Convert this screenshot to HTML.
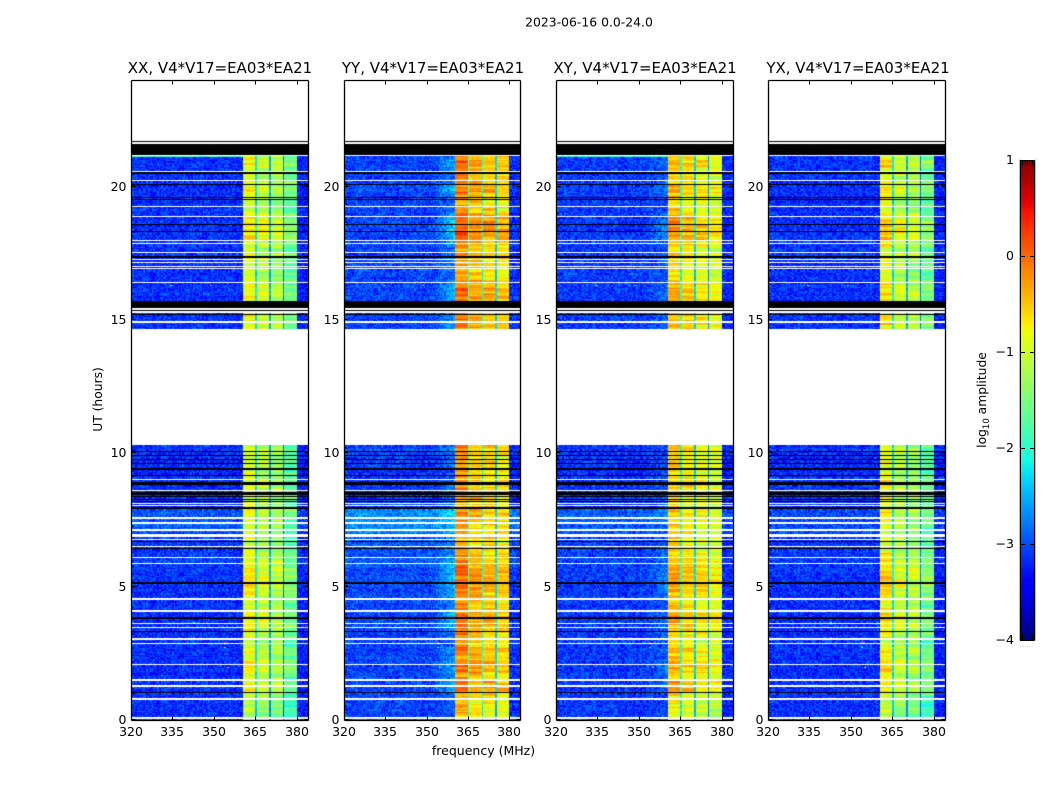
<!DOCTYPE html>
<html lang="en">
<head>
<meta charset="utf-8">
<title>2023-06-16 spectrogram</title>
<style>
  html, body { margin: 0; padding: 0; background: #fff; }
  #figure { position: relative; width: 1050px; height: 800px; overflow: hidden; background: #fff; }
  canvas { position: absolute; display: block; }
  svg { position: absolute; left: 0; top: 0; }
  text { font-family: "DejaVu Sans", "Liberation Sans", sans-serif; fill: #000; }
</style>
</head>
<body>
<div id="figure">
  <canvas id="heat0" style="left:131px;top:80px" width="177" height="640"></canvas>
  <canvas id="heat1" style="left:344px;top:80px" width="176" height="640"></canvas>
  <canvas id="heat2" style="left:556px;top:80px" width="177" height="640"></canvas>
  <canvas id="heat3" style="left:768px;top:80px" width="177" height="640"></canvas>
  <canvas id="cbar" style="left:1020px;top:160px" width="14" height="480"></canvas>
  <svg id="overlay" width="1050" height="800">
    <text x="589" y="26.5" text-anchor="middle" font-size="12.4">2023-06-16 0.0-24.0</text>
    <text x="220" y="73" text-anchor="middle" font-size="15">XX, V4*V17=EA03*EA21</text>
    <text x="433" y="73" text-anchor="middle" font-size="15">YY, V4*V17=EA03*EA21</text>
    <text x="645" y="73" text-anchor="middle" font-size="15">XY, V4*V17=EA03*EA21</text>
    <text x="858" y="73" text-anchor="middle" font-size="15">YX, V4*V17=EA03*EA21</text>
    <text x="483.5" y="755" text-anchor="middle" font-size="12.5">frequency (MHz)</text>
    <text transform="translate(102,399.5) rotate(-90)" text-anchor="middle" font-size="12.3">UT (hours)</text>
    <text transform="translate(986,400) rotate(-90)" text-anchor="middle" font-size="12.3">log<tspan font-size="8.5" dy="3">10</tspan><tspan dy="-3"> amplitude</tspan></text>
    <text x="1027" y="647" text-anchor="middle" font-size="4" fill="#555" letter-spacing="1">......</text>
  </svg>
</div>
<script>
// ---------- Axis data ----------
const freqTicks = [320, 335, 350, 365, 380];
const hourTicks = [0, 5, 10, 15, 20];
const colorbarTicks = [1, 0, -1, -2, -3, -4];
const freqDomain = [320, 384];
const hourDomain = [0, 24];
const colorDomain = [-4, 1];

// ---------- Grid data ----------
const channelMHz = 0.5;
const rowHours = 0.05;
const observedSpans = [[0, 10.3], [14.67, 21.17]];

// Bright sub-bands [start MHz, end MHz]; the one-channel gaps between them are the notches.
const subBands = [[360.5, 365], [365.5, 370], [370.5, 375], [375.5, 380]];
const notchByGap = [-2.3, -2.6, -2.9];
const notchPanelOffset = [0, 0.5, 0.2, 0];

// Estimated log10 amplitude levels per polarisation panel.
const panelOrder = ["XX", "YY", "XY", "YX"];
const backgroundLevel = [-3.17, -3.07, -3.12, -3.17];
const levelXX = [-0.95, -1.15, -1.3, -1.7];
const levelYY = [-0.25, -0.5, -0.6, -0.7];
const levelXY = [-0.55, -0.72, -0.85, -0.98];
const levelYX = [-0.85, -1.15, -1.28, -1.65];
const gainScale = [1.0, 1.0, 1.0, 1.1];
const backgroundScale = [0.6, 1.0, 0.5, 0.4];
const shoulderLevel = [0, 0.75, 0.4, 0];
const upperBandOffset = -0.1;
const topRowBoost = [1.2, 0, 1.0, 0];

// Signal change per quarter hour, 0h to 24h.
const quarterHourGain = [
  -0.3,-0.2,-0.2,-0.1,0.2,0.2,-0.05,0.2,0.2,0,0.15,-0.1,
  0,0.1,0.2,0.25,0.1,0,0.1,0.2,0.25,0.25,0.25,0.15,
  0.05,-0.05,-0.1,0,-0.1,0,0.05,0.1,-0.05,0,0.05,0.05,
  -0.05,-0.1,0,-0.05,0.05,0,
  0,0,0,0,0,0,0,0,0,0,0,0,0,0,0,0,
  0.1,0.15,0.1,0.1,0.1,0.2,0.2,0.1,-0.1,-0.1,0,0.1,
  -0.1,0.1,0.3,0.35,0.3,0.2,-0.05,-0.1,0.05,0.2,0.1,0,
  0.05,0.2,0.05,0,
  0,0,0,0,0,0,0,0,0,0
];

// Background change per quarter hour, 0h to 24h.
const quarterHourBackground = [
  0,0,0,0,0,0,0,0,0,0,0,0,
  0,0,0,0,0,0,0,0,0.05,0.05,0.05,0.1,
  0.1,0.1,0.1,0.1,0.35,0.35,0.35,0.35,0,-0.05,-0.05,-0.1,
  -0.05,-0.1,-0.05,0,0,0,
  0,0,0,0,0,0,0,0,0,0,0,0,0,0,0,0,
  0,0,0,0,0,0,0,0,0,0,0,0,
  0,0,0,0,0,0,0,0,0,0,0,0,
  0,0,0,0,
  0,0,0,0,0,0,0,0,0,0
];

// Estimated row streaks and fine speckle, looked up per row and cell.
const rowResidual = [
  0.12,-0.08,0.2,-0.15,0.03,-0.22,0.16,0.06,-0.1,0.25,-0.18,0.01,0.09,-0.26,0.14,-0.05,0.19,-0.12,0.07,0.23,
  -0.2,-0.02,0.11,-0.16,0.28,-0.07,0.04,-0.24,0.17,-0.11,0.08,0.21,-0.14,-0.03,0.13,-0.19,0.26,-0.09,0.02,0.15,
  -0.23,0.1,-0.06,0.18,-0.17,0.05,-0.13,0.24,-0.01,-0.21,0.12,0.07,-0.15,0.22,-0.04,-0.1,0.16,-0.25,0.09
];
const cellResidual = [
  0.21,-0.14,0.05,-0.27,0.18,0.02,-0.09,0.29,-0.2,0.11,-0.03,0.24,-0.17,0.07,-0.3,0.15,0.26,-0.06,-0.22,0.09,
  0.01,-0.12,0.3,-0.25,0.13,0.04,-0.19,0.22,-0.08,0.17,-0.28,0.06,0.27,-0.15,-0.01,0.19,-0.23,0.1,-0.05,0.25,
  -0.11,0.03,-0.18,0.28,0.08,-0.26,0.16,-0.07,0.2,-0.02,-0.21,0.12,0.23,-0.13,-0.29,0.14,-0.04,0.26,-0.16,0.0,0.18
];

// Hot cells as [hour, MHz, log10 amplitude].
const hotHours = [2.0, 2.92, 2.73, 3.1, 3.67, 16.33, 16.33];
const hotFreqs = [354.6, 353.7, 353.7, 342.4, 342.4, 334.1, 348.5];
const hotValues = [-1, 0.1, -1.5, 0.1, -2, -1, -0.3];

// Flagged integrations, in UT hours.
const whiteRows = [20.58,20.23,19.26,18.88,17.98,17.88,17.53,17.26,17.16,17.01,16.93,16.41,
  9.03,8.13,8.05,7.58,7.39,7.13,6.78,6.5,6.1,5.86,4.54,4.09,3.61,3.46,3.04,2.87,2.07,1.28,0.79,0.08];
const blackRows = [21.69,20.51,20.08,19.6,19.53,18.58,18.31,17.36,15.38,15.21,
  10.06,9.91,9.76,9.61,9.41,9.17,8.54,8.48,8.38,8.27,8.2,6.69,6.44,5.14,3.83,3.32,1.02];
const whiteBlocks = [[21.6,21.66],[15.38,15.46],[15.28,15.34],[14.87,14.98],[8.58,8.63],[6.88,6.98],[1.45,1.52]];
const blackBlocks = [[21.17,21.6],[15.46,15.71],[8.8,8.93],[7.9,8.0]];

// ---------- Layout ----------
const panelLeft = [131, 344, 556, 768];
const panelRight = [308, 520, 733, 945];
const plotTop = 80;
const plotBottom = 720;
const cbTop = 160;
const cbBottom = 640;
const cbLeft = 1020;
const cbRight = 1034;
const svgNS = "http://www.w3.org/2000/svg";
const overlay = document.getElementById("overlay");

function xScale(p, mhz) {
  return panelLeft[p] + (mhz - freqDomain[0]) / (freqDomain[1] - freqDomain[0]) * (panelRight[p] - panelLeft[p]);
}
function yScale(hour) {
  return plotBottom - (hour - hourDomain[0]) / (hourDomain[1] - hourDomain[0]) * (plotBottom - plotTop);
}
function cbScale(v) {
  return cbBottom - (v - colorDomain[0]) / (colorDomain[1] - colorDomain[0]) * (cbBottom - cbTop);
}
function interp(stops, t) {
  for (let i = 1; i < stops.length; i++) {
    if (t <= stops[i][0]) {
      const a = stops[i - 1];
      const b = stops[i];
      return a[1] + (b[1] - a[1]) * (t - a[0]) / (b[0] - a[0]);
    }
  }
  return stops[stops.length - 1][1];
}
const jetR = [[0,0],[0.35,0],[0.66,1],[0.89,1],[1,0.5]];
const jetG = [[0,0],[0.125,0],[0.375,1],[0.64,1],[0.91,0],[1,0]];
const jetB = [[0,0.5],[0.11,1],[0.34,1],[0.65,0],[1,0]];
const jetTable = [];
for (let i = 0; i < 256; i++) {
  const t = i / 255;
  jetTable.push("rgb(" + Math.round(interp(jetR, t) * 255) + "," + Math.round(interp(jetG, t) * 255) + "," + Math.round(interp(jetB, t) * 255) + ")");
}
function colorOf(v) {
  const t = (v - colorDomain[0]) / (colorDomain[1] - colorDomain[0]);
  return jetTable[Math.max(0, Math.min(255, Math.round(t * 255)))];
}
function svgLine(x1, y1, x2, y2, name, stroke, width) {
  const el = document.createElementNS(svgNS, "line");
  el.setAttribute("x1", x1);
  el.setAttribute("y1", y1);
  el.setAttribute("x2", x2);
  el.setAttribute("y2", y2);
  el.setAttribute("stroke", stroke || "#000");
  el.setAttribute("stroke-width", width || "1");
  
  
  overlay.appendChild(el);
}
function svgLabel(x, y, anchor, str, name) {
  const el = document.createElementNS(svgNS, "text");
  el.setAttribute("x", x);
  el.setAttribute("y", y);
  el.setAttribute("text-anchor", anchor);
  el.setAttribute("font-size", "12.5");
  el.textContent = str;
  
  
  overlay.appendChild(el);
}
function bandOf(mhz) {
  for (let b = 0; b < subBands.length; b++) {
    if (mhz >= subBands[b][0] && mhz < subBands[b][1]) return b;
  }
  return -1;
}
function notchOf(mhz) {
  for (let b = 0; b < subBands.length - 1; b++) {
    if (mhz >= subBands[b][1] && mhz < subBands[b + 1][0]) return b;
  }
  return -1;
}

// ---------- Heatmaps ----------
function drawPanel(p) {
  const canvas = document.getElementById("heat" + p);
  const ctx = canvas.getContext("2d");
  const left = panelLeft[p];
  const levels = [levelXX, levelYY, levelXY, levelYX][p];
  const nChannels = Math.round((freqDomain[1] - freqDomain[0]) / channelMHz);
  const upperEdge = subBands[subBands.length - 1][1];
  const channelX = [];
  for (let c = 0; c <= nChannels; c++) {
    channelX.push(Math.round(xScale(p, freqDomain[0] + c * channelMHz)) - left);
  }
  observedSpans.forEach(function (span) {
    const firstRow = Math.round(span[0] / rowHours);
    const lastRow = Math.round(span[1] / rowHours);
    for (let r = firstRow; r < lastRow; r++) {
      const hour = r * rowHours;
      const q = Math.floor(hour * 4);
      const gain = quarterHourGain[q] * gainScale[p];
      const bg = quarterHourBackground[q] * backgroundScale[p];
      const y0 = Math.round(yScale(hour + rowHours)) - plotTop;
      const y1 = Math.round(yScale(hour)) - plotTop;
      if (y1 <= y0) continue;
      const isTopRow = r === lastRow - 1 && span[1] > 20;
      for (let c = 0; c < nChannels; c++) {
        const f = freqDomain[0] + (c + 0.5) * channelMHz;
        const band = bandOf(f);
        const notch = notchOf(f);
        const speckle = cellResidual[(c * c * 7 + r * r * 3 + c * r * 11 + c * 5 + r + p * 13) % cellResidual.length];
        const coarse = rowResidual[(Math.floor(r / 2) + (band + 1) * 3 + p) % rowResidual.length];
        const fine = rowResidual[(r * 3 + band + 2 * p + 7) % rowResidual.length];
        const streak = (coarse + fine) * 0.6;
        let v;
        if (band >= 0) {
          v = levels[band] + gain + streak * 1.1 + speckle * 0.35;
        } else if (notch >= 0) {
          v = notchByGap[notch] + notchPanelOffset[p] + gain * 0.5 + streak * 0.3 + speckle * 0.4;
        } else {
          v = backgroundLevel[p] + bg + streak * 0.2 + speckle * 1.1;
          if (f > upperEdge) v += upperBandOffset;
          if (f > 352 && f < 360.5) {
            v += shoulderLevel[p] * (f - 352) / 8.5 * Math.max(0.15, 0.4 + gain * 2);
          }
          if (isTopRow && f < 360.5) v += topRowBoost[p];
        }
        ctx.fillStyle = colorOf(v);
        ctx.fillRect(channelX[c], y0, channelX[c + 1] - channelX[c], y1 - y0);
      }
    }
  });
  hotHours.forEach(function (h, i) {
    ctx.fillStyle = colorOf(hotValues[i]);
    ctx.fillRect(Math.round(xScale(p, hotFreqs[i])) - left, Math.round(yScale(h)) - plotTop, 2, 1);
  });
  const width = canvas.width;
  function fillSpan(hi, lo, color) {
    const y0 = Math.round(yScale(hi)) - plotTop;
    const y1 = Math.max(y0 + 1, Math.round(yScale(lo)) - plotTop);
    ctx.fillStyle = color;
    ctx.fillRect(0, y0, width, y1 - y0);
  }
  whiteRows.forEach(function (h) { fillSpan(h + rowHours / 2, h - rowHours / 2, "#fff"); });
  blackRows.forEach(function (h) { fillSpan(h + rowHours / 2, h - rowHours / 2, "#000"); });
  whiteBlocks.forEach(function (b) { fillSpan(b[1], b[0], "#fff"); });
  blackBlocks.forEach(function (b) { fillSpan(b[1], b[0], "#000"); });
}
panelOrder.forEach(function (name, p) { drawPanel(p); });

// ---------- Axes ----------
panelOrder.forEach(function (name, p) {
  const key = name.toLowerCase();
  const L = panelLeft[p] + 0.5;
  const R = panelRight[p] + 0.5;
  const T = plotTop + 0.5;
  const B = plotBottom + 0.5;
  freqTicks.forEach(function (f) {
    const x = Math.round(xScale(p, f)) + 0.5;
    svgLine(x, B, x, B - 4, "x-tick-bottom-" + key + "-" + f);
    svgLine(x, T, x, T + 4, "x-tick-top-" + key + "-" + f);
    svgLabel(x - 0.5, 736, "middle", String(f), "x-tick-label-" + key + "-" + f);
  });
  hourTicks.forEach(function (h) {
    const y = Math.round(yScale(h)) - 0.5;
    svgLine(L, y, L + 4, y, "y-tick-left-" + key + "-" + h);
    svgLine(R, y, R - 4, y, "y-tick-right-" + key + "-" + h);
    svgLabel(L - 5, y + 4.5, "end", String(h), "y-tick-label-" + key + "-" + h);
  });
  svgLine(L, T, R, T, "axis-top-" + key, "#000", "1.3");
  svgLine(L, B, R, B, "axis-bottom-" + key, "#000", "1.3");
  svgLine(L, T, L, B, "axis-left-" + key, "#000", "1.3");
  svgLine(R, T, R, B, "axis-right-" + key, "#000", "1.3");
});

// ---------- Colorbar ----------
(function () {
  const ctx = document.getElementById("cbar").getContext("2d");
  const h = cbBottom - cbTop;
  for (let i = 0; i < h; i++) {
    ctx.fillStyle = colorOf(colorDomain[1] - (i + 0.5) / h * (colorDomain[1] - colorDomain[0]));
    ctx.fillRect(0, i, cbRight - cbLeft, 1);
  }
  const outline = [[1019.5, cbTop - 0.5, 1019.5, cbBottom + 0.5], [1035.5, cbTop - 0.5, 1035.5, cbBottom + 0.5]];
  outline.forEach(function (s, i) { svgLine(s[0], s[1], s[2], s[3], "colorbar-outline-" + i, "#bbb"); });
  svgLine(cbLeft + 0.5, cbTop + 0.5, cbRight + 0.5, cbTop + 0.5, "colorbar-border-top");
  svgLine(cbLeft + 0.5, cbBottom + 0.5, cbRight + 0.5, cbBottom + 0.5, "colorbar-border-bottom");
  svgLine(cbLeft + 0.5, cbTop + 0.5, cbLeft + 0.5, cbBottom + 0.5, "colorbar-border-left");
  svgLine(cbRight + 0.5, cbTop + 0.5, cbRight + 0.5, cbBottom + 0.5, "colorbar-border-right");
  colorbarTicks.forEach(function (v) {
    const y = Math.round(cbScale(v)) + 0.5;
    svgLine(cbLeft, y, cbLeft + 5, y, "colorbar-tick-left-" + v);
    svgLine(cbRight, y, cbRight - 4, y, "colorbar-tick-right-" + v);
    svgLabel(1014, y + 3.5, "end", v < 0 ? "\u2212" + Math.abs(v) : String(v), "colorbar-tick-label-" + v);
  });
  for (let i = 1; i <= 5; i++) {
    const x = cbLeft + i * (cbRight - cbLeft) / 6;
    const px = Math.round(x) + 0.5;
    svgLine(px, cbTop, px, cbTop + 5, "colorbar-minor-tick-top-" + i);
    svgLine(px, cbBottom, px, cbBottom - 6, "colorbar-minor-tick-bottom-" + i);
  }
})();
</script>
</body>
</html>
